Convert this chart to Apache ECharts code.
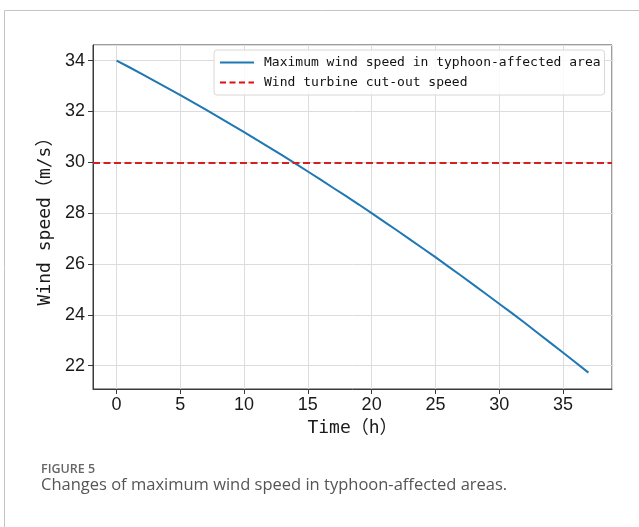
<!DOCTYPE html>
<html>
<head>
<meta charset="utf-8">
<script src="https://cdn.jsdelivr.net/npm/echarts@6/dist/echarts.min.js"></script>
<style>
  html, body { margin: 0; padding: 0; background: #fff; }
  #chart { width: 639px; height: 527px; }
</style>
</head>
<body>
<div id="chart"></div>
<script>
// Hourly time steps (h)
const hours = [0,1,2,3,4,5,6,7,8,9,10,11,12,13,14,15,16,17,18,19,20,21,22,23,24,25,26,27,28,29,30,31,32,33,34,35,36,37];
// Maximum wind speed in the typhoon-affected area (m/s)
const maxWindSpeed = [34.00,33.74,33.47,33.19,32.92,32.64,32.36,32.07,31.78,31.48,31.19,30.88,30.58,30.27,29.96,29.64,29.32,28.99,28.67,28.34,28.00,27.66,27.32,26.97,26.62,26.27,25.91,25.55,25.18,24.81,24.44,24.07,23.69,23.30,22.91,22.52,22.13,21.73];
// Wind turbine cut-out speed (m/s)
const cutOutSpeed = 30;

const seriesNames = ['Maximum wind speed in typhoon-affected area', 'Wind turbine cut-out speed'];
const xTitle = 'Time\uFF08h\uFF09';
const yTitle = 'Wind speed\uFF08m/s\uFF09';
const figLabel = 'FIGURE 5';
const figCaption = 'Changes of maximum wind speed in typhoon-affected areas.';

const chart = echarts.init(document.getElementById('chart'), null, { renderer: 'canvas' });

const tickFont = { fontFamily: "'Liberation Sans', Arial, sans-serif", fontSize: 18, color: '#1a1a1a' };
const titleFont = { fontFamily: "'DejaVu Sans Mono', 'Noto Sans CJK SC', monospace", fontSize: 18, color: '#1a1a1a' };
const axisColor = '#3a3a3a';

chart.setOption({
  animation: false,
  backgroundColor: '#fff',
  grid: {
    left: 93, top: 45, width: 519, height: 344,
    show: true, borderColor: axisColor, borderWidth: 1, backgroundColor: 'transparent'
  },
  legend: {
    orient: 'vertical',
    left: 214, top: 50,
    itemWidth: 34, itemHeight: 10, itemGap: 7,
    padding: [6, 4, 6, 5],
    backgroundColor: 'rgba(255,255,255,0.85)',
    borderColor: '#d8d8d8', borderWidth: 1, borderRadius: 3,
    itemStyle: { opacity: 0 },
    textStyle: { fontFamily: "'DejaVu Sans Mono', 'Liberation Mono', monospace", fontSize: 13, color: '#111', padding: [0, 0, 0, 5] },
    data: seriesNames
  },
  xAxis: {
    type: 'value',
    min: -1.85, max: 38.85,
    splitNumber: 8,
    name: xTitle, nameLocation: 'middle', nameGap: 27,
    nameTextStyle: titleFont,
    axisLine: { show: true, onZero: false, lineStyle: { color: axisColor, width: 1 } },
    axisTick: { show: true, inside: false, length: 5, lineStyle: { color: axisColor } },
    axisLabel: Object.assign({ margin: 7, showMinLabel: false, showMaxLabel: false }, tickFont),
    splitLine: { show: true, lineStyle: { color: '#dcdcdc', width: 1 } }
  },
  yAxis: {
    type: 'value',
    min: 21.085, max: 34.615,
    splitNumber: 6,
    name: yTitle, nameLocation: 'middle', nameGap: 30, nameRotate: 90,
    nameTextStyle: titleFont,
    axisLine: { show: true, onZero: false, lineStyle: { color: axisColor, width: 1 } },
    axisTick: { show: true, inside: false, length: 5, lineStyle: { color: axisColor } },
    axisLabel: Object.assign({ margin: 8, showMinLabel: false, showMaxLabel: false }, tickFont),
    splitLine: { show: true, lineStyle: { color: '#dcdcdc', width: 1 } }
  },
  series: [
    {
      name: seriesNames[0],
      type: 'line',
      data: hours.map((h, i) => [h, maxWindSpeed[i]]),
      showSymbol: false, symbol: 'none',
      lineStyle: { color: '#1f77b4', width: 2 },
      itemStyle: { color: '#1f77b4' },
      z: 3
    },
    {
      name: seriesNames[1],
      type: 'line',
      data: [],
      symbol: 'none',
      lineStyle: { color: '#e01010', width: 2, type: [6, 3.5] },
      itemStyle: { color: '#e01010' },
      markLine: {
        silent: true, symbol: 'none', label: { show: false },
        lineStyle: { color: '#d42020', width: 2, type: [7, 3.5] },
        data: [{ yAxis: cutOutSpeed }]
      },
      z: 2
    }
  ],
  graphic: [
    { type: 'line', shape: { x1: 4.5, y1: 10.5, x2: 639, y2: 10.5 }, style: { stroke: '#c4c4c4', lineWidth: 1 } },
    { type: 'line', shape: { x1: 4.5, y1: 10.5, x2: 4.5, y2: 527 }, style: { stroke: '#c4c4c4', lineWidth: 1 } },
    { type: 'text', left: 41, top: 463, style: { text: figLabel, fill: '#666', font: "600 12.5px 'Open Sans', sans-serif" } },
    { type: 'text', left: 41, top: 477, style: { text: figCaption, fill: '#555', font: "16.5px 'Open Sans', sans-serif" } }
  ]
});
</script>
</body>
</html>
